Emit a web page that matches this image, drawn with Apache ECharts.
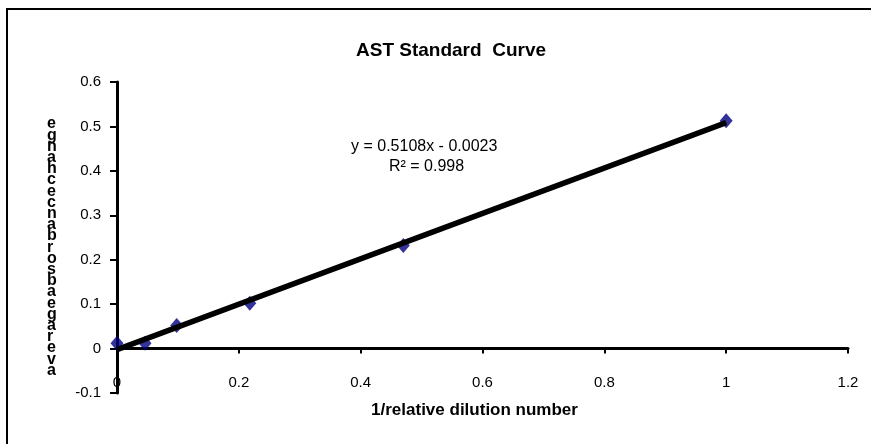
<!DOCTYPE html>
<html>
<head>
<meta charset="utf-8">
<script src="https://cdn.jsdelivr.net/npm/echarts@6/dist/echarts.min.js"></script>
<style>
html,body{margin:0;padding:0;background:#fff;}
#chart{width:871px;height:444px;}
</style>
</head>
<body>
<div id="chart"></div>
<script>
// Data
var pointX = [0, 0.046, 0.098, 0.218, 0.47, 1];
var pointY = [0.012, 0.012, 0.052, 0.102, 0.232, 0.513];
var trendX = [0, 1];
var trendY = [-0.0023, 0.5085];
var xTicks = { min: 0, max: 1.2, interval: 0.2 };
var yTicks = { min: -0.1, max: 0.6, interval: 0.1 };
var titleText = 'AST Standard  Curve';
var xName = '1/relative dilution number';
var yName = 'average absorbance change';
var equationText = 'y = 0.5108x - 0.0023';
var r2Text = 'R\u00b2 = 0.998';

var FONT = '"Liberation Sans", Arial, sans-serif';
var yNameStacked = yName.replace(/ /g, '').split('').reverse().join('\n');

var chart = echarts.init(document.getElementById('chart'), null, {renderer: 'canvas'});
chart.setOption({
  animation: false,
  backgroundColor: '#fff',
  title: {
    text: titleText,
    left: 351, top: 36,
    textStyle: {fontFamily: FONT, fontSize: 19, fontWeight: 'bold', color: '#000'}
  },
  grid: {left: 117, right: 23, top: 82, bottom: 51, containLabel: false, outerBoundsMode: 'none'},
  xAxis: {
    type: 'value', min: xTicks.min, max: xTicks.max, interval: xTicks.interval,
    name: xName, nameLocation: 'middle', nameGap: 9,
    nameTextStyle: {fontFamily: FONT, fontSize: 17, fontWeight: 'bold', color: '#000', padding: [0, 16, 0, 0]},
    axisLine: {show: true, onZero: true, lineStyle: {color: '#000', width: 3}},
    axisTick: {show: true, inside: false, length: 5, lineStyle: {color: '#000', width: 2}},
    axisLabel: {margin: -18, fontFamily: FONT, fontSize: 15, color: '#000',
      formatter: function (v) { return String(Math.round(v * 10) / 10); }},
    splitLine: {show: false}
  },
  yAxis: {
    type: 'value', min: yTicks.min, max: yTicks.max, interval: yTicks.interval,
    axisLine: {show: true, onZero: true, lineStyle: {color: '#000', width: 3}},
    axisTick: {show: true, inside: false, length: 7, lineStyle: {color: '#000', width: 2}},
    axisLabel: {margin: 16, fontFamily: FONT, fontSize: 15, color: '#000',
      formatter: function (v) { return String(Math.round(v * 10) / 10); }},
    splitLine: {show: false}
  },
  series: [
    {
      type: 'scatter',
      data: pointX.map(function (x, i) { return [x, pointY[i]]; }),
      symbol: 'diamond', symbolSize: [13, 15],
      itemStyle: {color: '#000080'},
      z: 2
    },
    {
      type: 'line',
      data: trendX.map(function (x, i) { return [x, trendY[i]]; }),
      showSymbol: false, symbol: 'none',
      lineStyle: {color: '#000', width: 5.5},
      z: 3
    }
  ],
  graphic: [
    {
      type: 'rect', shape: {x: 7, y: 9, width: 900, height: 480},
      style: {fill: 'none', stroke: '#000', lineWidth: 2}, silent: true, z: -1
    },
    {
      type: 'text', left: 351, top: 139,
      style: {text: equationText, font: '16px ' + FONT, fill: '#000'}
    },
    {
      type: 'text', left: 389, top: 159,
      style: {text: r2Text, font: '16px ' + FONT, fill: '#000'}
    },
    {
      type: 'text', left: 47, top: 116,
      style: {text: yNameStacked, font: 'bold 16px ' + FONT, fill: '#000', lineHeight: 11.2, align: 'center'}
    }
  ]
});
</script>
</body>
</html>
